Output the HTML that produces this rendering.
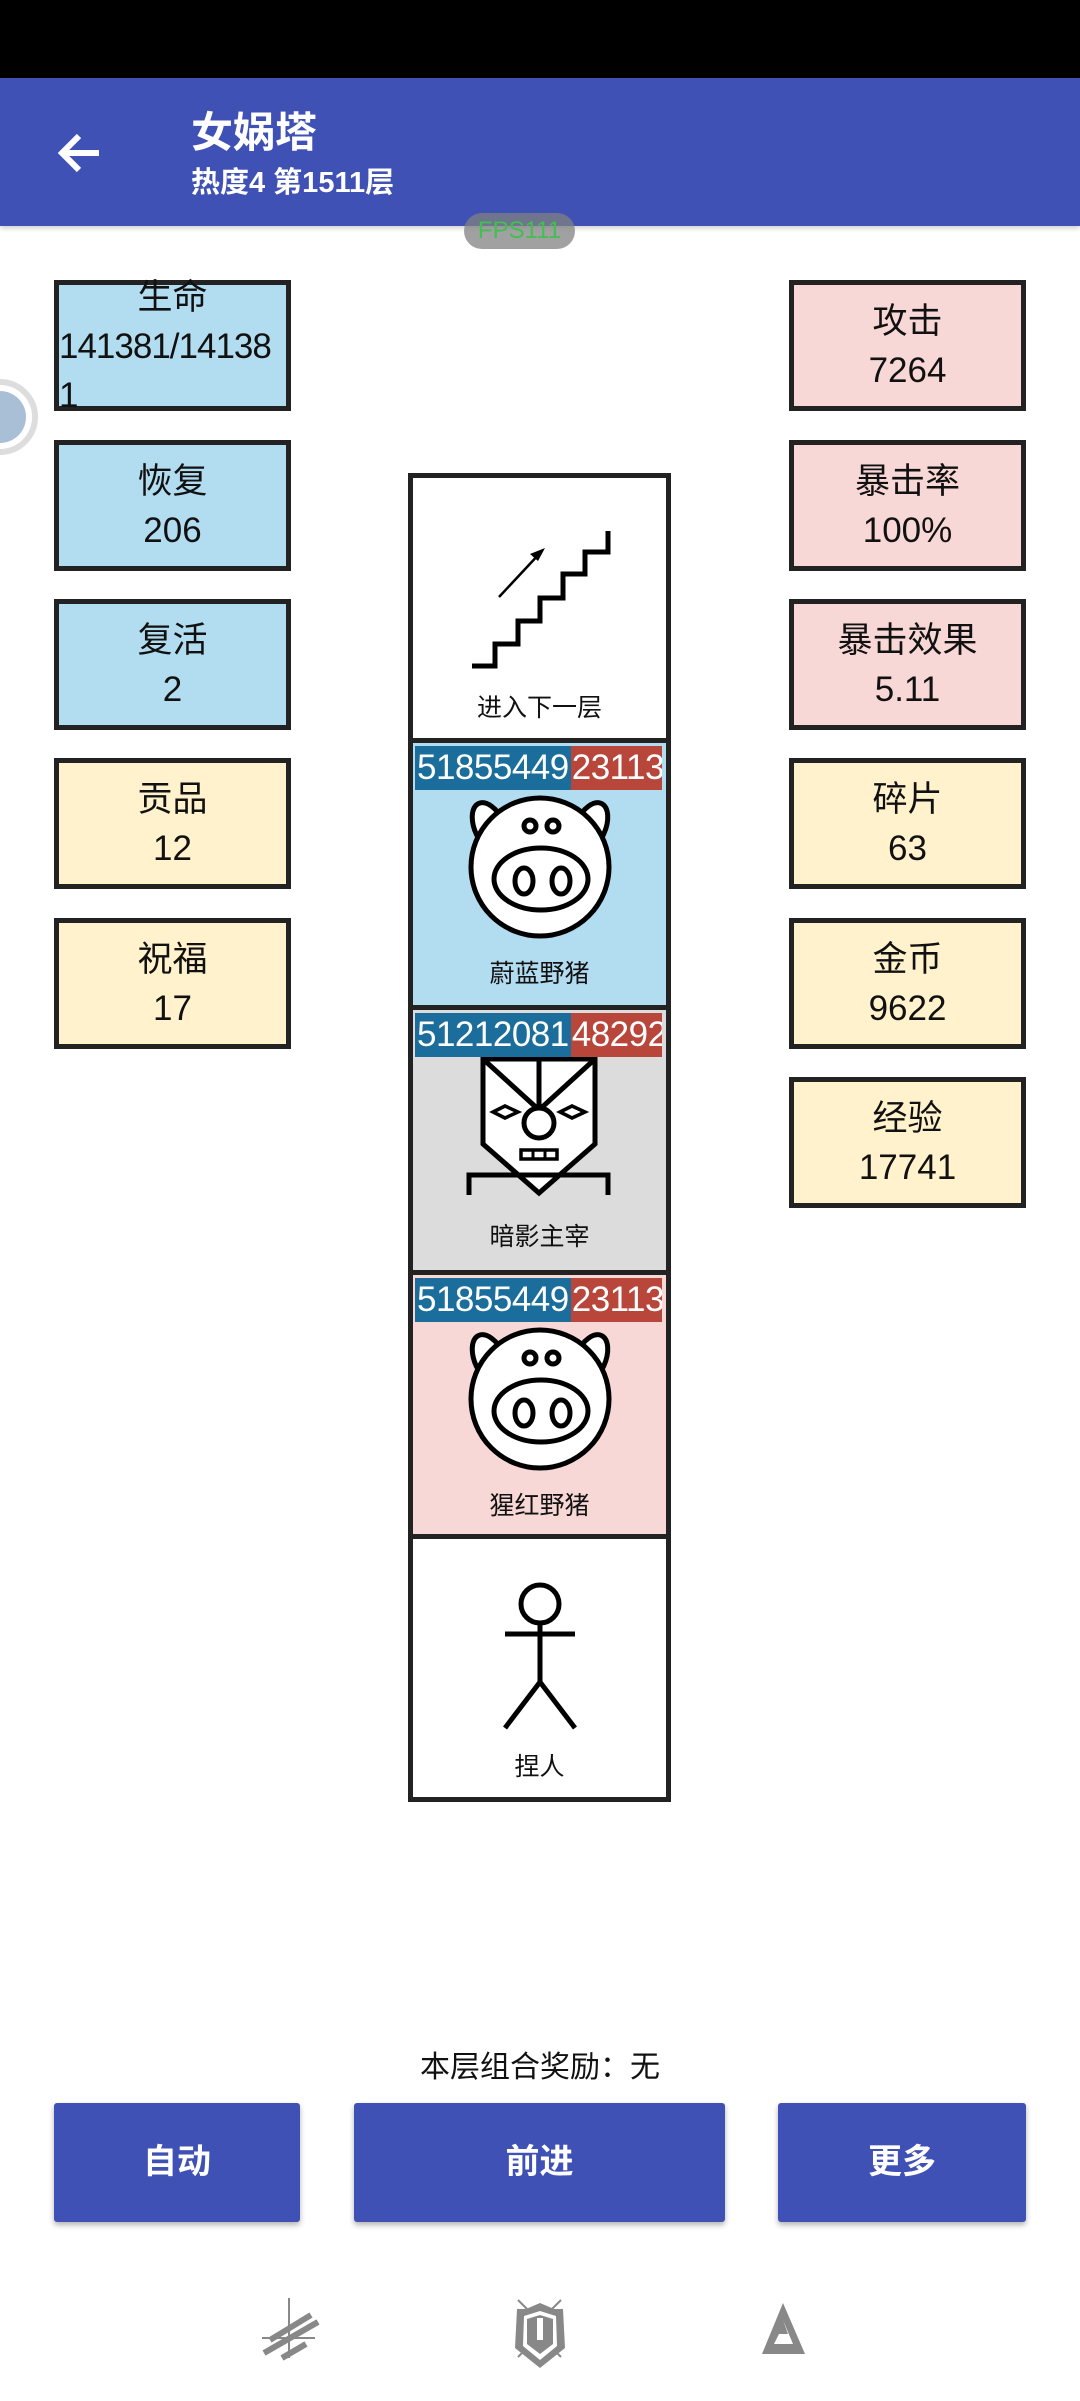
<!DOCTYPE html>
<html><head><meta charset="utf-8">
<style>
*{margin:0;padding:0;box-sizing:border-box}
body{width:1080px;height:2401px;background:#fff;position:relative;overflow:hidden;font-family:"Liberation Sans","Noto Sans CJK SC",sans-serif;color:#111}
.abs{position:absolute}
.box{position:absolute;width:237px;height:131px;border:5px solid #222}
.box .l,.box .v{position:absolute;left:0;right:0;text-align:center;font-size:35px;line-height:40px}
.box .l{top:17px}.box .v{top:66px}
.b{background:#b2dcef}.p{background:#f8d8d6}.y{background:#fff2cc}
.cell{position:absolute;left:408px;width:263px;border:5px solid #222}
.hp{position:absolute;left:415px;width:247px;height:44px;display:flex;font-size:35px;line-height:44px;color:#fff;overflow:hidden;white-space:nowrap;letter-spacing:-0.5px}
.hp .bl{background:#1b6d9c;padding-left:2px;padding-right:2px}
.hp .rd{background:#b9463a;flex:1;padding-left:1px}
.name{position:absolute;left:408px;width:263px;text-align:center;font-size:25px;line-height:30px}
.btn{position:absolute;top:2103px;height:119px;background:#3f51b5;color:#fff;font-weight:bold;font-size:34px;line-height:119px;text-align:center;border-radius:3px;box-shadow:0 3px 6px rgba(0,0,0,0.3)}
</style></head><body>
<div class="abs" style="left:0;top:0;width:1080px;height:78px;background:#000"></div>
<div class="abs" style="left:0;top:78px;width:1080px;height:148px;background:#3f51b5;box-shadow:0 2px 5px rgba(0,0,0,0.2)"></div>
<svg class="abs" style="left:55px;top:128px" width="50" height="50" viewBox="0 0 50 50"><path d="M44 25H8M24 8L7 25l17 17" stroke="#fff" stroke-width="6" fill="none"/></svg>
<div class="abs" style="left:191px;top:106px;font-size:42px;font-weight:bold;color:#fff;line-height:54px">女娲塔</div>
<div class="abs" style="left:191px;top:165px;font-size:29px;font-weight:bold;color:#fff;line-height:36px">热度4 第1511层</div>
<div class="abs" style="left:464px;top:213px;width:111px;height:36px;border-radius:18px;background:rgba(130,130,130,0.75);color:#3fc04f;font-size:24px;line-height:36px;text-align:center">FPS111</div>
<div class="abs" style="left:-38px;top:379px;width:76px;height:76px;border-radius:50%;border:6px solid #ddd;background:#fff"></div>
<div class="abs" style="left:-26px;top:391px;width:52px;height:52px;border-radius:50%;background:#a9bfd6"></div>

<div class="box b" style="left:54px;top:280px;overflow:visible">
 <div style="position:absolute;left:0;right:0;top:-12px;text-align:center;font-size:35px;line-height:49px">生命</div>
 <div style="position:absolute;left:0;top:37px;font-size:35px;line-height:49px;letter-spacing:-1px;white-space:nowrap">141381/14138</div>
 <div style="position:absolute;left:0;top:86px;font-size:35px;line-height:49px">1</div>
</div>
<div class="box b" style="left:54px;top:440px"><div class="l">恢复</div><div class="v">206</div></div>
<div class="box b" style="left:54px;top:599px"><div class="l">复活</div><div class="v">2</div></div>
<div class="box y" style="left:54px;top:758px"><div class="l">贡品</div><div class="v">12</div></div>
<div class="box y" style="left:54px;top:918px"><div class="l">祝福</div><div class="v">17</div></div>

<div class="box p" style="left:789px;top:280px"><div class="l">攻击</div><div class="v">7264</div></div>
<div class="box p" style="left:789px;top:440px"><div class="l">暴击率</div><div class="v">100%</div></div>
<div class="box p" style="left:789px;top:599px"><div class="l">暴击效果</div><div class="v">5.11</div></div>
<div class="box y" style="left:789px;top:758px"><div class="l">碎片</div><div class="v">63</div></div>
<div class="box y" style="left:789px;top:918px"><div class="l">金币</div><div class="v">9622</div></div>
<div class="box y" style="left:789px;top:1077px"><div class="l">经验</div><div class="v">17741</div></div>

<div class="cell" style="top:473px;height:270px;background:#fff"></div>
<div class="cell" style="top:738px;height:272px;background:#b2dcef"></div>
<div class="cell" style="top:1005px;height:270px;background:#dcdcdc"></div>
<div class="cell" style="top:1270px;height:269px;background:#f8d8d6"></div>
<div class="cell" style="top:1534px;height:268px;background:#fff"></div>

<svg class="abs" style="left:0;top:0" width="1080" height="1800">
 <g fill="none" stroke="#000" stroke-width="5">
  <path d="M472 666H495V644H518V621H540V598H563V574H585V552H608V531"/>
  <path d="M499 597L541 552" stroke-width="2.5"/>
 </g>
 <path d="M545 548L530 554L538 561Z" fill="#000"/>
 <g id="pig" stroke="#000" stroke-width="5" fill="#fff">
  <ellipse cx="490" cy="828" rx="15" ry="27" transform="rotate(-25 490 828)"/>
  <ellipse cx="590" cy="828" rx="15" ry="27" transform="rotate(25 590 828)"/>
  <circle cx="540" cy="867" r="69"/>
  <circle cx="530" cy="826" r="6"/><circle cx="553" cy="826" r="6"/>
  <ellipse cx="541" cy="879" rx="47" ry="31"/>
  <ellipse cx="524" cy="881" rx="9" ry="13"/><ellipse cx="561" cy="881" rx="9" ry="13"/>
 </g>
 <use href="#pig" y="532"/>
 <g stroke="#000" stroke-width="5" fill="#fff">
  <path d="M483 1059H595V1144L539 1193L483 1144Z"/>
  <path d="M483 1059L539 1110L595 1059M539 1059V1108" fill="none"/>
  <circle cx="539" cy="1123" r="15"/>
  <path d="M493 1112L505 1106L518 1112L505 1118Z M560 1112L572 1106L585 1112L572 1118Z" stroke-width="3.5"/>
  <rect x="521" y="1150" width="36" height="9" stroke-width="3.5"/>
  <path d="M533 1150V1159M545 1150V1159" stroke-width="3"/>
  <path d="M469 1195V1175H608V1195" fill="none"/>
 </g>
 <g stroke="#000" stroke-width="5" fill="none">
  <circle cx="540" cy="1604" r="19"/>
  <path d="M540 1623V1682M505 1634H575M540 1682L505 1728M540 1682L575 1728"/>
 </g>
</svg>
<div class="name" style="top:693px">进入下一层</div>
<div class="hp" style="top:746px"><span class="bl">51855449</span><span class="rd">23113</span></div>
<div class="name" style="top:959px">蔚蓝野猪</div>
<div class="hp" style="top:1013px"><span class="bl">51212081</span><span class="rd">48292</span></div>
<div class="name" style="top:1222px">暗影主宰</div>
<div class="hp" style="top:1278px"><span class="bl">51855449</span><span class="rd">23113</span></div>
<div class="name" style="top:1491px">猩红野猪</div>
<div class="name" style="top:1752px">捏人</div>

<div class="abs" style="left:0;width:1080px;top:2050px;text-align:center;font-size:30px;line-height:36px">本层组合奖励：无</div>
<div class="btn" style="left:54px;width:246px">自动</div>
<div class="btn" style="left:354px;width:371px">前进</div>
<div class="btn" style="left:778px;width:248px">更多</div>

<svg class="abs" style="left:0;top:2290px" width="1080" height="100">
 <g stroke="#888" fill="none">
  <path d="M289 8V68M262 48H315" stroke-width="2"/>
  <path d="M270 50L311 25M264 63L318 32M282 68L306 54" stroke-width="6"/>
  <path d="M518 10L527 19M561 10L552 19M518 67L527 58M561 67L552 58" stroke-width="2"/>
 </g>
 <path d="M540 13L554 19L563 19L565 58L540 78L515 58L517 19L526 19Z" fill="#888"/>
 <path d="M540 21L556 26L557 56L540 70L523 56L524 26Z" fill="#fff"/>
 <path d="M540 25L553 29L553 54L540 64L527 54L527 29Z" fill="#888"/>
 <path d="M537 28H543V50H537Z" fill="#fff"/>
 <path d="M783 13L805 64H762Z" fill="#888"/>
 <path d="M783 30L793 54H774L779 44H788Z" fill="#fff"/>
</svg>
</body></html>
